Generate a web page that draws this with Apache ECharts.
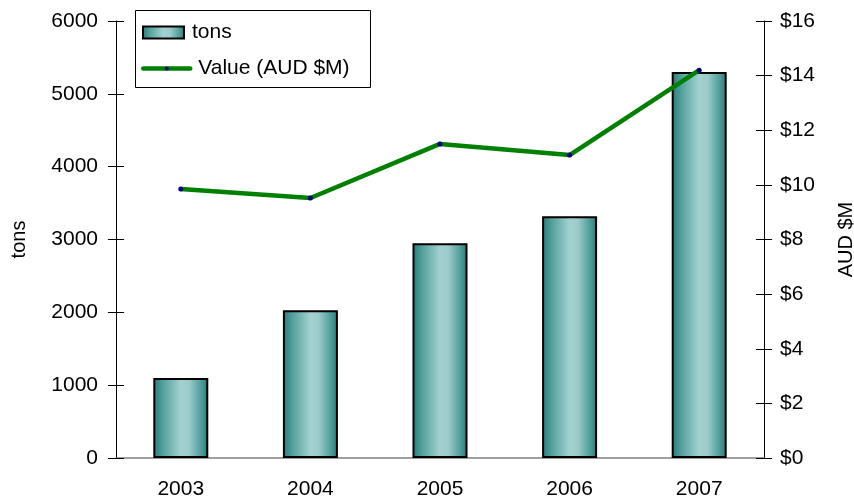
<!DOCTYPE html>
<html>
<head>
<meta charset="utf-8">
<script src="https://cdn.jsdelivr.net/npm/echarts@6/dist/echarts.min.js"></script>
<style>
  html, body { margin: 0; padding: 0; background: #fff; }
  #chart { width: 854px; height: 501px; }
</style>
</head>
<body>
<div id="chart"></div>
<script>
const years = ['2003', '2004', '2005', '2006', '2007']
const tons = [1100, 2030, 2950, 3320, 5300]
const valueAud = [9.85, 9.52, 11.5, 11.09, 14.2]

const font = 'Liberation Sans, Arial, sans-serif'
const chart = echarts.init(document.getElementById('chart'))

const barFill = new echarts.graphic.LinearGradient(0, 0, 1, 0, [
  { offset: 0, color: '#267b78' },
  { offset: 0.18, color: '#55a19e' },
  { offset: 0.5, color: '#a2d2d0' },
  { offset: 0.65, color: '#9ccbca' },
  { offset: 0.86, color: '#53a09c' },
  { offset: 1, color: '#277a77' }
])

// shared y axis settings, duplicates only draw the inner half of the ticks
const leftBase = { type: 'value', min: 0, max: 6000, interval: 1000, position: 'left' }
const rightBase = { type: 'value', min: 0, max: 16, interval: 2, position: 'right' }
const legendText = { fontSize: 21, color: '#000', fontFamily: font, padding: [0, 0, 0, 3] }

chart.setOption({
  animation: false,
  textStyle: { fontFamily: font },
  grid: { left: 116, right: 90, top: 21, bottom: 43, outerBoundsMode: 'none' },
  graphic: [{
    type: 'rect',
    z: 0,
    shape: { x: 135.5, y: 10.5, width: 235, height: 77 },
    style: { fill: '#fff', stroke: '#000', lineWidth: 1 }
  }],
  legend: [{
    left: 142,
    top: 22,
    padding: 0,
    itemWidth: 41,
    itemHeight: 12,
    textStyle: legendText,
    data: [{ name: 'tons', icon: 'rect' }]
  }, {
    left: 141,
    top: 58,
    padding: 0,
    itemWidth: 47,
    itemHeight: 5,
    textStyle: legendText,
    data: [{ name: 'Value (AUD $M)', lineStyle: { width: 4.5, cap: 'round' } }]
  }],
  xAxis: [{
    type: 'category',
    data: years,
    axisLine: { lineStyle: { color: '#808080', width: 1.5 } },
    axisTick: { length: 7, lineStyle: { color: '#808080', width: 1.5 } },
    axisLabel: { fontSize: 21, color: '#000', margin: 21 }
  }, {
    type: 'category',
    data: years,
    position: 'bottom',
    axisLine: { show: false },
    axisTick: { inside: true, length: 7, lineStyle: { color: '#808080', width: 1.5 } },
    axisLabel: { show: false }
  }],
  yAxis: [Object.assign({}, leftBase, {
    name: 'tons',
    nameLocation: 'middle',
    nameGap: 87,
    nameTextStyle: { fontSize: 20, color: '#000' },
    axisLine: { show: true, lineStyle: { color: '#000', width: 1 } },
    axisTick: { show: true, length: 8, lineStyle: { color: '#000' } },
    axisLabel: { fontSize: 21, color: '#000', margin: 18, formatter: v => String(v) },
    splitLine: { show: false }
  }), Object.assign({}, rightBase, {
    name: 'AUD $M',
    nameLocation: 'middle',
    nameRotate: 90,
    nameGap: 72,
    nameTextStyle: { fontSize: 20, color: '#000' },
    axisLine: { show: true, lineStyle: { color: '#000', width: 1 } },
    axisTick: { show: true, length: 8, lineStyle: { color: '#000' } },
    axisLabel: { fontSize: 21, color: '#000', margin: 16, formatter: v => '$' + v },
    splitLine: { show: false }
  }), Object.assign({}, leftBase, {
    axisLine: { show: false },
    axisTick: { show: true, inside: true, length: 8, lineStyle: { color: '#000' } },
    axisLabel: { show: false },
    splitLine: { show: false }
  }), Object.assign({}, rightBase, {
    axisLine: { show: false },
    axisTick: { show: true, inside: true, length: 8, lineStyle: { color: '#000' } },
    axisLabel: { show: false },
    splitLine: { show: false }
  })],
  series: [{
    name: 'tons',
    type: 'bar',
    yAxisIndex: 0,
    barWidth: 55,
    data: tons,
    itemStyle: { color: barFill, borderColor: '#000', borderWidth: 2 }
  }, {
    name: 'Value (AUD $M)',
    type: 'line',
    yAxisIndex: 1,
    data: valueAud,
    z: 5,
    symbol: 'circle',
    symbolSize: 5,
    itemStyle: { color: '#000080' },
    lineStyle: { color: '#008000', width: 4.5 }
  }]
})
</script>
</body>
</html>
